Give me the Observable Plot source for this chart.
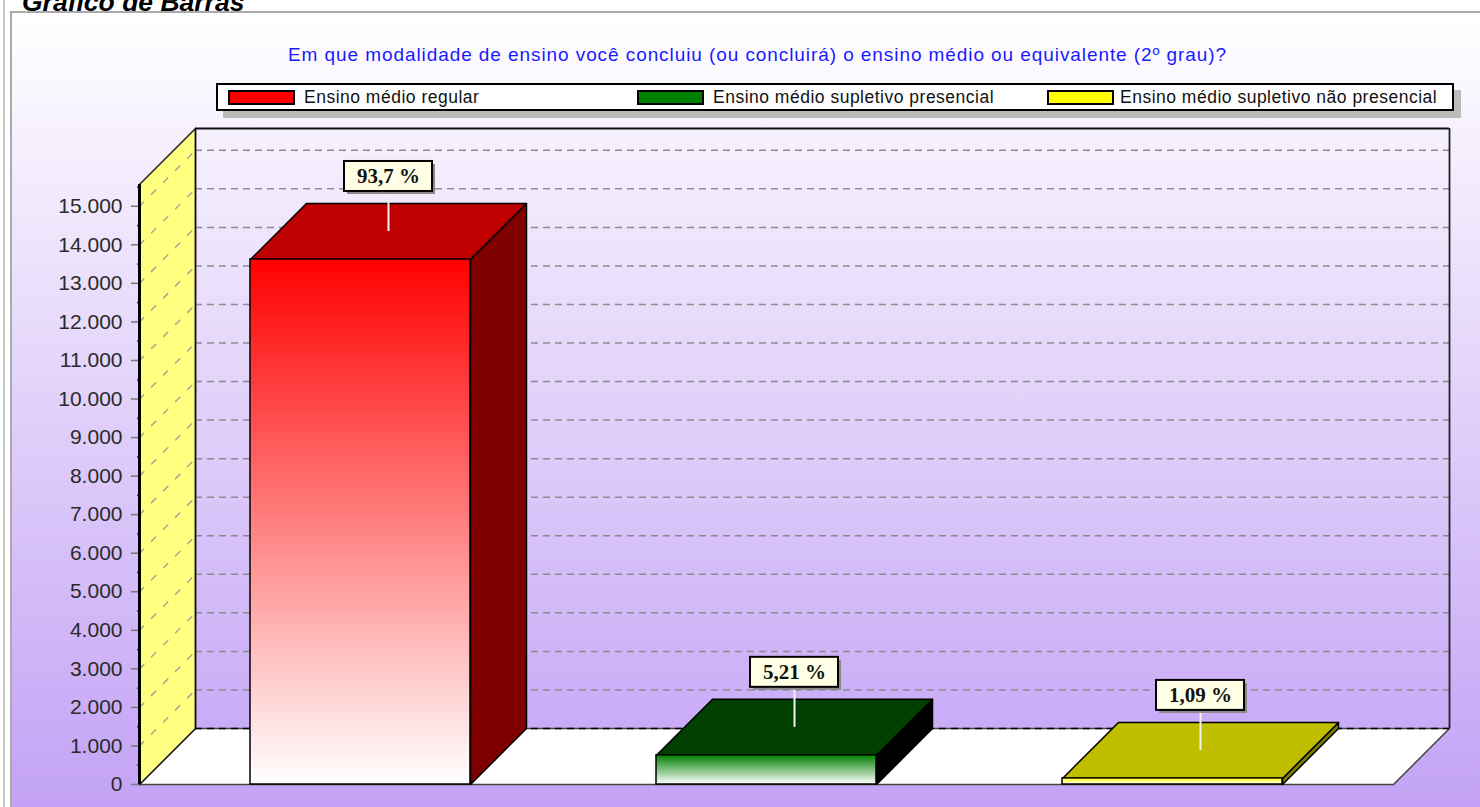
<!DOCTYPE html>
<html lang="pt">
<head>
<meta charset="utf-8">
<script src="https://cdn.jsdelivr.net/npm/d3@7"></script>
<script src="https://cdn.jsdelivr.net/npm/@observablehq/plot@0.6"></script>
<style>
  html, body { margin: 0; padding: 0; background: #fff; overflow: hidden; }
  #page { position: relative; width: 1480px; height: 807px; overflow: hidden; background: #fff; font-family: "Liberation Sans", Arial, sans-serif; }
  #outer { position: absolute; left: 3px; top: 0; width: 2px; height: 807px; background: #c8c8c8; }
  #pageTitle { position: absolute; left: 22px; top: -13px; margin: 0; font: italic bold 26.5px "Liberation Sans", Arial, sans-serif; color: #000; white-space: nowrap; }
  #panel { position: absolute; left: 10px; top: 11px; width: 1470px; height: 796px; box-sizing: border-box; border-left: 2px solid #aaa; border-top: 2px solid #aaa;
           background: linear-gradient(to bottom, #ffffff 0%, #c3a2f5 100%); }
  #chartTitle { position: absolute; left: 288px; top: 44px; margin: 0; font: 19px "Liberation Sans", Arial, sans-serif; letter-spacing: 0.92px; color: #1a1aff; white-space: nowrap; z-index: 2; }
  #legend { position: absolute; left: 216px; top: 83px; width: 1238px; height: 28px; box-sizing: border-box; background: #fff; border: 2px solid #000; box-shadow: 7px 7px 0 #bbb; z-index: 2; }
  .sw { position: absolute; top: 5px; width: 67px; height: 15px; box-sizing: border-box; border: 2px solid #000; }
  .lb { position: absolute; top: 2px; font-size: 17.5px; letter-spacing: 0.5px; line-height: 21px; color: #111; white-space: nowrap; }
  #chart { position: absolute; left: 0; top: 115px; z-index: 1; }
  #chart svg { display: block; background: transparent; overflow: visible; }
</style>
</head>
<body>
<div id="page">
  <div id="outer"></div>
  <h1 id="pageTitle">Gráfico de Barras</h1>
  <div id="panel"></div>
  <div id="chartTitle"></div>
  <div id="legend"></div>
  <div id="chart"></div>
</div>
<script>
// ---- data ----
const chartTitle = "Em que modalidade de ensino você concluiu (ou concluirá) o ensino médio ou equivalente (2º grau)?";
const categories = ["Ensino médio regular", "Ensino médio supletivo presencial", "Ensino médio supletivo não presencial"];
const values = [13620, 757, 158];
const percentLabels = ["93,7 %", "5,21 %", "1,09 %"];
const yTicks = [0, 1000, 2000, 3000, 4000, 5000, 6000, 7000, 8000, 9000, 10000, 11000, 12000, 13000, 14000, 15000];
const minorTicks = [500, 1500, 2500, 3500, 4500, 5500, 6500, 7500, 8500, 9500, 10500, 11500, 12500, 13500, 14500, 15500];
const frontColors = ["#ff0000", "#008000", "#ffff00"];
const topColors = ["#bf0000", "#004000", "#bfbf00"];
const sideColors = ["#800000", "#000000", "#808000"];

// ---- pseudo-3D geometry, in scale units ----
const pxX = 406;            // px per category step
const pxY = 0.03855;        // px per value unit
const halfBar = 110 / pxX;
const depthX = 56 / pxX;
const depthY = 56 / pxY;
const xMin = -0.5443, xFront = 2.5443, xMax = xFront + depthX;
const yWall = 15565;
const yMax = yWall + depthY;

const fmt = d3.formatLocale({decimal: ",", thousands: ".", grouping: [3], currency: ["", ""]}).format(",d");

// ---- legend & title (HTML) ----
document.getElementById("chartTitle").textContent = chartTitle;
const legendEl = document.getElementById("legend");
const swX = [10, 419, 829], lbX = [86, 495, 902];
categories.forEach((c, i) => {
  const s = document.createElement("div"); s.className = "sw";
  s.style.left = swX[i] + "px"; s.style.background = frontColors[i];
  const l = document.createElement("div"); l.className = "lb";
  l.style.left = lbX[i] + "px"; l.textContent = c;
  legendEl.append(s, l);
});

// ---- helpers ----
const poly = (pts, fill, stroke = "#000", strokeWidth = 1.5) =>
  Plot.line(pts, {x: "0", y: "1", fill, stroke, strokeWidth, curve: "linear-closed"});

const defs = () => {
  const s = d3.create("svg:defs");
  frontColors.forEach((c, i) => {
    const g = s.append("linearGradient").attr("id", "front" + i)
      .attr("x1", 0).attr("y1", 0).attr("x2", 0).attr("y2", 1);
    g.append("stop").attr("offset", 0).attr("stop-color", c);
    g.append("stop").attr("offset", 1).attr("stop-color", "#ffffff");
  });
  return s.node();
};

const bars = categories.map((c, i) => ({i, c, v: values[i], label: percentLabels[i]}));

const barMarks = bars.flatMap(({i, v}) => {
  const x1 = i - halfBar, x2 = i + halfBar;
  return [
    poly([[x2, 0], [x2 + depthX, depthY], [x2 + depthX, v + depthY], [x2, v]], sideColors[i]),
    poly([[x1, v], [x2, v], [x2 + depthX, v + depthY], [x1 + depthX, v + depthY]], topColors[i]),
    Plot.rect([0], {x1, x2, y1: 0, y2: v, fill: `url(#front${i})`, stroke: "#000", strokeWidth: 1.5})
  ];
});

const boxHalf = 44 / pxX, boxGap = 40 / pxY, boxH = 30 / pxY;
const cx = d => d.i + depthX / 2;
const cy = d => d.v + depthY / 2;

const plot = Plot.plot({
  width: 1480, height: 692,
  marginTop: 13, marginBottom: 23, marginLeft: 139, marginRight: 31,
  x: {domain: [xMin, xMax], axis: null},
  y: {domain: [0, yMax], axis: null},
  style: {fontFamily: "'Liberation Sans', Arial, sans-serif", fontSize: "21px", background: "transparent", color: "#2a2a2a"},
  marks: [
    defs,
    // floor
    poly([[xMin, 0], [xFront, 0], [xMax, depthY], [xMin + depthX, depthY]], "#fff", "#444", 1.5),
    // side wall
    poly([[xMin, 0], [xMin + depthX, depthY], [xMin + depthX, yMax], [xMin, yWall]], "#ffff80", "#222", 1.5),
    // side wall dashed lines
    ...yTicks.slice(1).map(t => Plot.line([[xMin, t], [xMin + depthX, t + depthY]],
      {x: "0", y: "1", stroke: "#a8a890", strokeWidth: 1.5, strokeDasharray: "6 11"})),
    // back wall grid
    Plot.ruleY(yTicks.slice(1), {y: d => d + depthY, x1: xMin + depthX, x2: xMax, stroke: "#8c8c8c", strokeWidth: 1.5, strokeDasharray: "7 5"}),
    Plot.ruleY([depthY], {x1: xMin + depthX, x2: xMax, stroke: "#000", strokeWidth: 1.5, strokeDasharray: "7 5"}),
    // back wall outline
    Plot.ruleY([yMax], {x1: xMin + depthX, x2: xMax, stroke: "#111", strokeWidth: 1.8}),
    Plot.ruleX([xMin + depthX], {y1: depthY, y2: yMax, stroke: "#111", strokeWidth: 1.5}),
    Plot.ruleX([xMax], {y1: depthY, y2: yMax, stroke: "#222", strokeWidth: 1.8}),
    // y axis
    Plot.axisY({ticks: yTicks, tickSize: 8, tickPadding: 9, tickFormat: fmt, stroke: "#777", strokeWidth: 1.5, label: null, fontSize: 21, textStroke: "none"}),
    Plot.ruleY(minorTicks, {x1: xMin - 2 / pxX, x2: xMin, stroke: "#333", strokeWidth: 1.5}),
    Plot.ruleX([xMin], {y1: 0, y2: yWall, stroke: "#000", strokeWidth: 3}),
    // bars
    ...barMarks,
    // callouts
    Plot.ruleX(bars, {x: cx, y1: cy, y2: d => cy(d) + boxGap, stroke: "#f2f2f2", strokeWidth: 2}),
    Plot.rect(bars, {x1: d => cx(d) - boxHalf, x2: d => cx(d) + boxHalf, y1: d => cy(d) + boxGap, y2: d => cy(d) + boxGap + boxH, fill: "#888", dx: 3, dy: 3}),
    Plot.rect(bars, {x1: d => cx(d) - boxHalf, x2: d => cx(d) + boxHalf, y1: d => cy(d) + boxGap, y2: d => cy(d) + boxGap + boxH, fill: "#ffffe6", stroke: "#000", strokeWidth: 2}),
    Plot.text(bars, {x: cx, y: d => cy(d) + boxGap + boxH / 2, text: "label", fontFamily: "'Liberation Serif', serif", fontWeight: "bold", fontSize: 21, fill: "#111"})
  ]
});
document.getElementById("chart").append(plot);
</script>
</body>
</html>
